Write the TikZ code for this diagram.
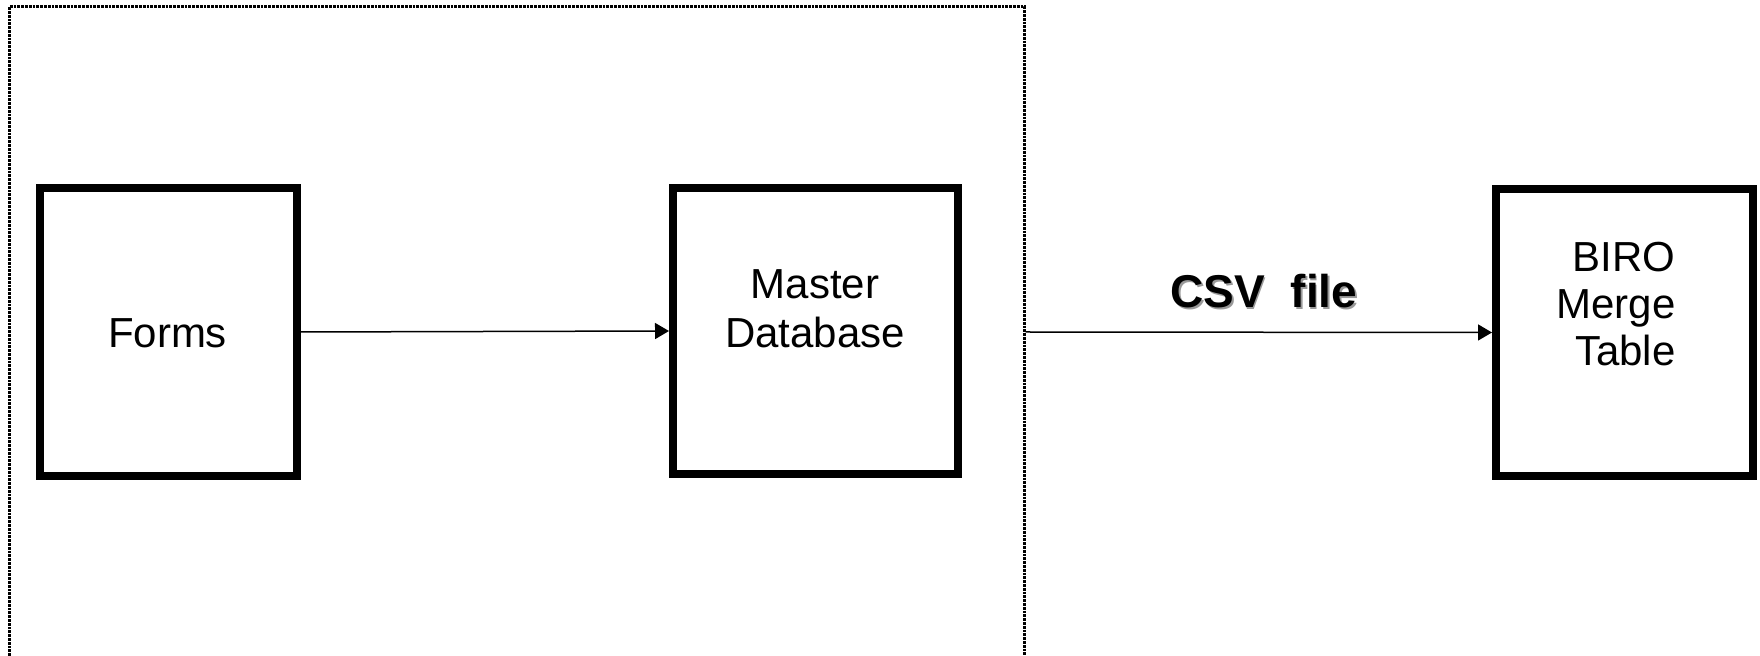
\documentclass[tikz,border=0pt]{standalone}
\usepackage{fontspec}
\setmainfont{Liberation Sans}
\usetikzlibrary{arrows.meta}
\tikzset{
  box/.style={draw=black, line width=4pt, rectangle, inner sep=0pt, fill=none},
  txt/.style={inner sep=0pt, font=\fontsize{21}{24.5}\selectfont},
  conn/.style={draw=black, line width=0.75pt, -{Triangle[length=7pt,width=8pt]}},
  frame/.style={draw=black, line width=1.1pt, dash pattern=on 1.4pt off 0.5pt}
}
\begin{document}
\begin{tikzpicture}[x=0.5pt,y=-0.5pt]
\useasboundingbox (0,0) rectangle (1760,656);
% dotted frame (open at the bottom)
\coordinate (fbl) at (9.5,656);
\coordinate (ftl) at (9.5,6.5);
\coordinate (ftr) at (1024.5,6.5);
\coordinate (fbr) at (1024.5,656);
\draw[frame] (fbl) -- (ftl) -- (ftr) -- (fbr);
% boxes
\node[box, minimum width=128.5pt, minimum height=144pt] (forms) at (168.5,332) {};
\node[box, minimum width=142.5pt, minimum height=143pt] (master) at (815.5,331) {};
\node[box, minimum width=128.5pt, minimum height=143.5pt] (biro) at (1624.5,332.5) {};
% texts (base anchor = baseline of the last line)
\node[txt, anchor=base] (formsT) at (167.5,348) {Forms};
\node[txt, anchor=base, align=center] (masterT) at (815,348) {Master\\Database};
\node[txt, anchor=base east, align=right, font=\fontsize{21}{23.5}\selectfont] (biroT) at (1676,366) {BIRO\\Merge\\Table};
% CSV file label with shadow
\node[inner sep=0pt, anchor=base, text=black!40, font=\fontsize{23}{27}\selectfont\bfseries] (csvS) at (1265.3,309.3) {CSV\ \ file};
\node[inner sep=0pt, anchor=base, font=\fontsize{23}{27}\selectfont\bfseries] (csv) at (1264,308) {CSV\ \ file};
% connectors
\coordinate (frameOut) at (1025.5,332);
\draw[conn] (forms.east) -- (master.west);
\draw[conn] (frameOut) -- (biro.west);
\end{tikzpicture}
\end{document}
